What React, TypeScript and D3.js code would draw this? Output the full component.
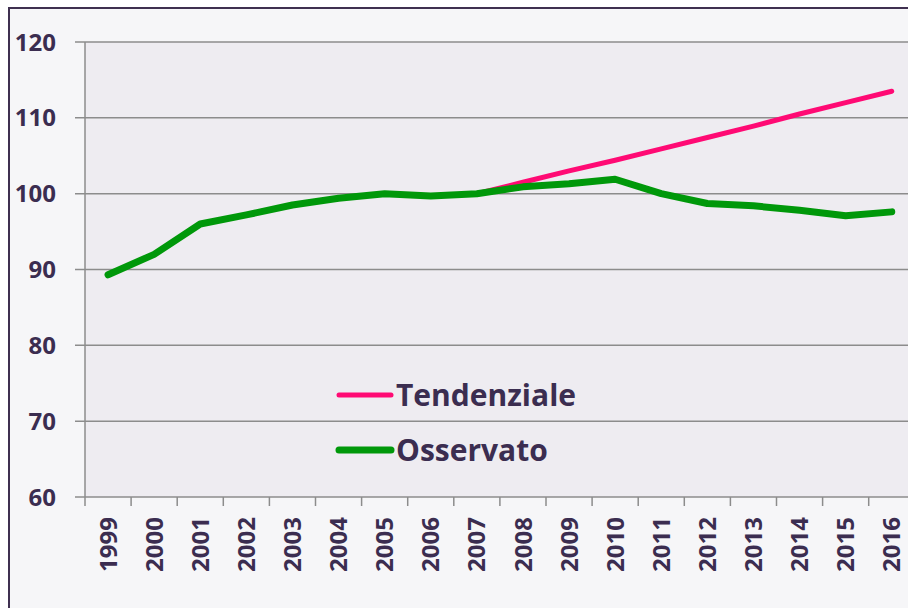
import React from "react";
import * as d3 from "d3";

const years = ["1999","2000","2001","2002","2003","2004","2005","2006","2007","2008","2009","2010","2011","2012","2013","2014","2015","2016"];
const osservato = [89.3, 92.0, 96.0, 97.2, 98.5, 99.4, 100.0, 99.7, 100.0, 100.9, 101.3, 101.9, 100.0, 98.7, 98.4, 97.8, 97.1, 97.6];
const tendenziale = [89.3, 92.0, 96.0, 97.2, 98.5, 99.4, 100.0, 99.7, 100.0, 101.5, 103.0, 104.4, 105.9, 107.4, 108.9, 110.5, 112.0, 113.5];
const yTicks = [60, 70, 80, 90, 100, 110, 120];
const seriesNames = ["Tendenziale", "Osservato"];
const colors = ["#ff0a74", "#00980a"];

export default function App() {
  const W = 908, H = 608;
  const left = 85, top = 42, bottom = 497;
  const step = 46.1;
  const x = d3.scaleBand<string>().domain(years).range([left, left + step * years.length]);
  const y = d3.scaleLinear().domain([60, 120]).range([bottom, top]);
  const cx = (d: string) => (x(d) as number) + x.bandwidth() / 2;
  const line = d3.line<number>().x((_, i) => cx(years[i])).y((v) => y(v));
  const textColor = "#3b2d50";
  const font = "'Open Sans', sans-serif";
  const right = W + 20;
  return (
    <svg width={W} height={H} style={{ position: "absolute", left: 0, top: 0 }}>
      <rect x={0} y={0} width={W} height={H} fill="#ffffff" />
      <rect x={9} y={8} width={W + 20} height={H + 20} fill="#f6f6f8" stroke="#3f3050" strokeWidth={2} />
      <rect x={left} y={top} width={right - left} height={bottom - top} fill="#eeecf1" />
      {yTicks.map((t) => (
        <g key={t}>
          <line x1={75} x2={right} y1={y(t)} y2={y(t)} stroke="#8c8c8c" strokeWidth={1.5} />
          <text x={56} y={y(t)} dy="0.36em" textAnchor="end" fontFamily={font} fontWeight={700} fontSize={24} fill={textColor}>{t}</text>
        </g>
      ))}
      <line x1={left} x2={left} y1={top} y2={bottom + 9} stroke="#8c8c8c" strokeWidth={1.5} />
      {years.map((yr) => (
        <g key={yr}>
          <line x1={(x(yr) as number) + x.bandwidth()} x2={(x(yr) as number) + x.bandwidth()} y1={bottom} y2={bottom + 9} stroke="#8c8c8c" strokeWidth={1.5} />
          <text transform={`translate(${cx(yr)},${517}) rotate(-90)`} dy="0.36em" textAnchor="end" fontFamily={font} fontWeight={700} fontSize={24} fill={textColor}>{yr}</text>
        </g>
      ))}
      <path d={line(tendenziale) || ""} fill="none" stroke={colors[0]} strokeWidth={5} strokeLinejoin="round" strokeLinecap="round" />
      <path d={line(osservato) || ""} fill="none" stroke={colors[1]} strokeWidth={7} strokeLinejoin="round" strokeLinecap="round" />
      {seriesNames.map((n, i) => (
        <g key={n}>
          <line x1={339} x2={391} y1={395 + i * 55} y2={395 + i * 55} stroke={colors[i]} strokeWidth={i === 0 ? 5 : 7} strokeLinecap="round" />
          <text x={396} y={406 + i * 55} fontFamily={font} fontWeight={700} fontSize={30} fill={textColor}>{n}</text>
        </g>
      ))}
    </svg>
  );
}
